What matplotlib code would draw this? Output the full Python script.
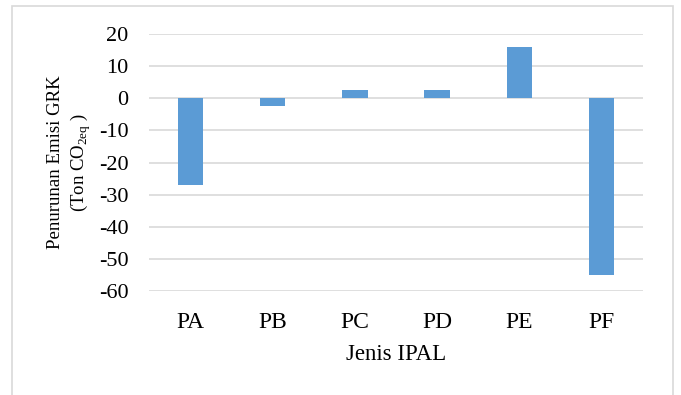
import matplotlib
matplotlib.use("Agg")
import matplotlib.pyplot as plt
from matplotlib.patches import Rectangle

plt.rcParams['font.family'] = ['Liberation Serif', 'DejaVu Serif']
plt.rcParams['mathtext.fontset'] = 'custom'
plt.rcParams['mathtext.rm'] = 'Liberation Serif'

# emission reduction per IPAL type (ton CO2eq)
categories = ["PA", "PB", "PC", "PD", "PE", "PF"]
values = [-27, -2.5, 2.6, 2.6, 16, -55]
yticks = [20, 10, 0, -10, -20, -30, -40, -50, -60]

fig = plt.figure(figsize=(6.81, 3.95), dpi=100)
ax = fig.add_axes([0.219, 0.263, 0.725, 0.651])

x = range(len(categories))
ax.bar(x, values, width=0.31, color="#5B9BD5", zorder=3)

ax.set_ylim(-60, 20)
ax.set_xlim(-0.5, len(categories) - 0.5)
ax.set_yticks(yticks)
ax.set_yticklabels([str(t) for t in yticks])
ax.set_xticks(list(x))
ax.set_xticklabels(categories)
ax.tick_params(axis="y", length=0, labelsize=16, pad=15)
ax.tick_params(axis="x", length=0, labelsize=17, pad=15)
ax.grid(axis="y", color="#d9d9d9", linewidth=1.2, zorder=0)
for s in ax.spines.values():
    s.set_visible(False)

ax.set_xlabel("Jenis IPAL", fontsize=16.5, labelpad=8)
ax.set_ylabel("Penurunan Emisi GRK\n(Ton CO$_{\\mathrm{2eq}}$ )", fontsize=13.5,
              labelpad=4, linespacing=1.3)

# light frame around the chart
fig.patches.append(Rectangle((12 / 681, -0.05), 661 / 681, 1.05 - 5.5 / 395,
                             transform=fig.transFigure, fill=False,
                             edgecolor="#d9d9d9", linewidth=1.2))

fig.savefig("out.png", dpi=100)
